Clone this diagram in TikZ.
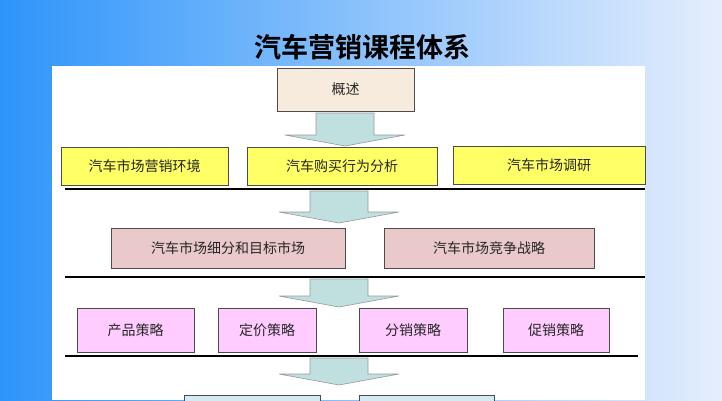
\documentclass[tikz,border=0pt]{standalone}
\usepackage{fontspec}
\newfontfamily\cjk{Noto Sans CJK SC}
\newfontfamily\cjkb{Noto Sans CJK SC Bold}
\definecolor{bgL}{HTML}{2E95FA}
\definecolor{bgR}{HTML}{E6EEFD}
\definecolor{tanfill}{HTML}{F7EBDD}
\definecolor{yelfill}{HTML}{FFFF66}
\definecolor{pinkfill}{HTML}{E9C9C9}
\definecolor{violfill}{HTML}{FFCCFF}
\definecolor{bluefill}{HTML}{D3EAF3}
\definecolor{teal}{HTML}{BFE0DF}
\tikzset{
  box/.style={draw=black!70, line width=0.8pt, inner sep=0pt, text=black!85, font=\cjk\fontsize{14}{14}\selectfont},
  sep/.style={line width=2.2pt},
  flow/.style={fill=teal, draw=black!40, line width=0.6pt}
}
\newcommand{\flowarrow}[3]{% x centre, top y, tip y
  \draw[flow] (#1-29,#2) -- (#1+29,#2) -- (#1+29,#3-11) -- (#1+60,#3-11) -- (#1,#3) -- (#1-60,#3-11) -- (#1-29,#3-11) -- cycle;}

\begin{document}
\begin{tikzpicture}[x=1pt,y=-1pt]
\useasboundingbox (0,0) rectangle (722,400);
% background
\shade[left color=bgL, right color=bgR] (0,0) rectangle (722,400);
\fill[white] (52,66) rectangle (645,400);
% title
\node (title) at (362,47) {\cjkb\fontsize{27}{27}\selectfont 汽车营销课程体系};

% level 0
\node[box, fill=tanfill, minimum width=137pt, minimum height=43pt] (intro) at (345.5,89.5) {概述};
\flowarrow{345}{113}{146}

% level 1
\node[box, fill=yelfill, minimum width=167pt, minimum height=38pt] (env) at (144.5,166) {汽车市场营销环境};
\node[box, fill=yelfill, minimum width=190pt, minimum height=38pt] (buy) at (342,166) {汽车购买行为分析};
\node[box, fill=yelfill, minimum width=192pt, minimum height=38pt] (res) at (549,165) {汽车市场调研};
\draw[sep] (65,189) -- (645,189);
\flowarrow{339}{191}{223}

% level 2
\node[box, fill=pinkfill, minimum width=234pt, minimum height=40pt] (seg) at (228,248) {汽车市场细分和目标市场};
\node[box, fill=pinkfill, minimum width=210pt, minimum height=40pt] (comp) at (489,248) {汽车市场竞争战略};
\draw[sep] (65,277) -- (645,277);
\flowarrow{339}{279}{307}

% level 3
\node[box, fill=violfill, minimum width=117pt, minimum height=44pt] (prod) at (135.5,330) {产品策略};
\node[box, fill=violfill, minimum width=98pt, minimum height=44pt] (price) at (267,330) {定价策略};
\node[box, fill=violfill, minimum width=108pt, minimum height=44pt] (dist) at (413,330) {分销策略};
\node[box, fill=violfill, minimum width=106pt, minimum height=44pt] (promo) at (556,330) {促销策略};
\draw[sep] (65,356) -- (638,356);
\flowarrow{339}{358}{385}

% level 4 (cut off)
\draw[box, fill=bluefill] (184,402) |- (320,395) -- (320,402);
\draw[box, fill=bluefill] (359,402) |- (494,395) -- (494,402);
\end{tikzpicture}
\end{document}
